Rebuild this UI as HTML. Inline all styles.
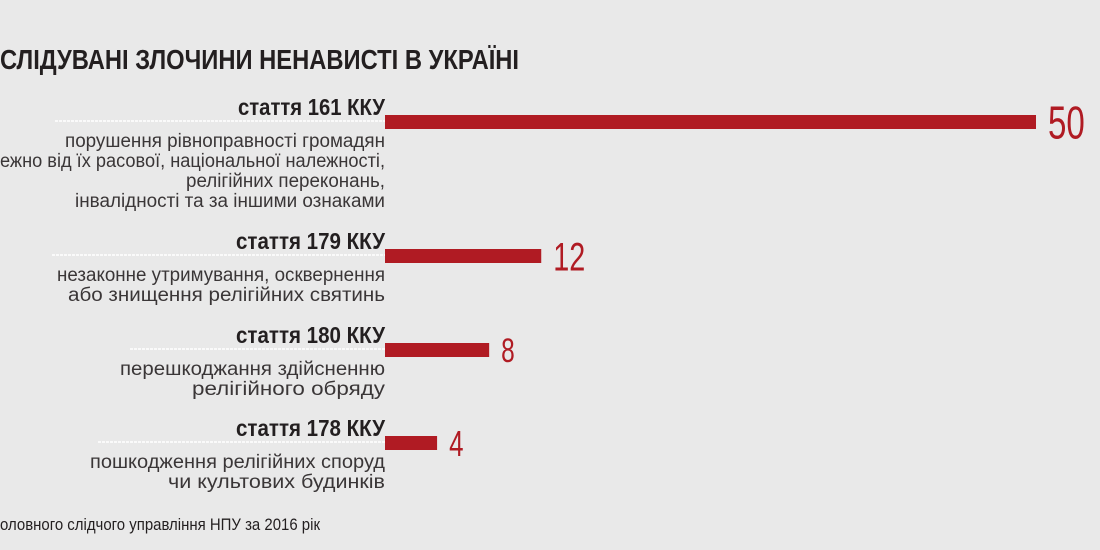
<!DOCTYPE html>
<html><head><meta charset="utf-8"><style>
html,body{margin:0;padding:0;background:#e9e9e9;width:1100px;height:550px;overflow:hidden}
svg{display:block}
text{font-family:"Liberation Sans",sans-serif}
</style></head><body>
<svg width="1100" height="550">
<rect width="1100" height="550" fill="#e9e9e9"/>
<text x="0" y="69" font-size="28" font-weight="bold" fill="#231f20" textLength="519" lengthAdjust="spacingAndGlyphs">СЛІДУВАНІ ЗЛОЧИНИ НЕНАВИСТІ В УКРАЇНІ</text>
<text x="0" y="530" font-size="17" fill="#231f20" textLength="320" lengthAdjust="spacingAndGlyphs">оловного слідчого управління НПУ за 2016 рік</text>
<g id="bars"></g>
</svg>
<script>
const categories=["стаття 161 ККУ","стаття 179 ККУ","стаття 180 ККУ","стаття 178 ККУ"];
const values=[50,12,8,4];
const valueLabels=["50","12","8","4"];
const descriptions=[
 ["порушення рівноправності громадян","ежно від їх расової, національної належності,","релігійних переконань,","інвалідності та за іншими ознаками"],
 ["незаконне утримування, осквернення","або знищення релігійних святинь"],
 ["перешкоджання здійсненню","релігійного обряду"],
 ["пошкодження релігійних споруд","чи культових будинків"]
];
const layout={x0:385,scale:651/50,barTops:[115,249,343,436],barH:14,lineStarts:[55,52,130,98],
 headW:[147,149,149,149],descW:[[320,385,199,310],[328,317],[265,193],[295,217]],valSize:[46,40,34,36]};
const NS="http://www.w3.org/2000/svg";
const g=document.getElementById('bars');
function xs(v){return layout.x0+v*layout.scale;}
function mk(t,a){const e=document.createElementNS(NS,t);for(const k in a)e.setAttribute(k,a[k]);g.appendChild(e);return e;}
categories.forEach((c,i)=>{
 const top=layout.barTops[i];
 const ln=mk('line',{x1:layout.lineStarts[i],x2:layout.x0,y1:top+6,y2:top+6,stroke:'#fff','stroke-width':1.5,'stroke-dasharray':'3 1'});
 
 
 const r=mk('rect',{x:layout.x0,y:top,width:xs(values[i])-layout.x0,height:layout.barH,fill:'#b01b23'});
 
 
 const h=mk('text',{x:layout.x0,y:top,'text-anchor':'end','font-size':23,'font-weight':'bold',fill:'#231f20',textLength:layout.headW[i],lengthAdjust:'spacingAndGlyphs'});
 h.textContent=c;
 
 
 descriptions[i].forEach((d,j)=>{
  const t=mk('text',{x:layout.x0,y:top+32+j*20,'text-anchor':'end','font-size':19,fill:'#3a3637',textLength:layout.descW[i][j],lengthAdjust:'spacingAndGlyphs'});
  t.textContent=d;
  
  
 });
 const s=layout.valSize[i];
 const v=mk('text',{x:xs(values[i])+12,y:top+7+s*0.36,'font-size':s,fill:'#b01b23',transform:'',style:'font-weight:300'});
 v.textContent=valueLabels[i];
 v.setAttribute('textLength',String(valueLabels[i].length*s*0.4));
 v.setAttribute('lengthAdjust','spacingAndGlyphs');
 
 
});
</script>
</body></html>
